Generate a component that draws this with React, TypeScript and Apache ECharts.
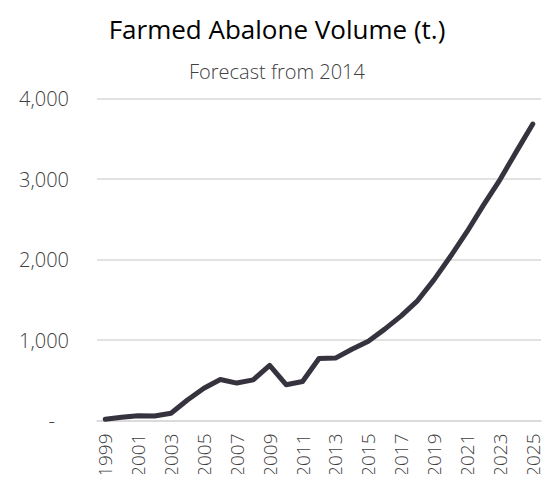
import React, { useEffect, useRef } from "react";
import * as echarts from "echarts";

const years = [
  "1999", "2000", "2001", "2002", "2003", "2004", "2005", "2006", "2007",
  "2008", "2009", "2010", "2011", "2012", "2013", "2014", "2015", "2016",
  "2017", "2018", "2019", "2020", "2021", "2022", "2023", "2024", "2025",
];
const volume = [
  15, 40, 60, 55, 90, 255, 400, 510, 465, 505, 685, 445, 485, 770, 775,
  885, 985, 1135, 1300, 1490, 1750, 2040, 2345, 2675, 2990, 3340, 3683,
];
const titleText = "Farmed Abalone Volume (t.)";
const subtitleText = "Forecast from 2014";

const FONT = "'Open Sans', 'Noto Sans', sans-serif";

export default function App() {
  const ref = useRef<HTMLDivElement>(null);
  useEffect(() => {
    if (!ref.current) return;
    const chart = echarts.init(ref.current, undefined, { renderer: "svg" });
    chart.setOption({
      animation: false,
      backgroundColor: "#ffffff",
      title: [
        {
          text: titleText,
          left: "center",
          top: 11,
          textStyle: { fontFamily: FONT, fontSize: 26, fontWeight: 400, color: "#000000" },
        },
        {
          text: subtitleText,
          left: "center",
          top: 56,
          textStyle: { fontFamily: FONT, fontSize: 20, fontWeight: 300, color: "#404040" },
        },
      ],
      grid: { left: 97, right: 13, top: 98.5, bottom: 61.5, containLabel: false },
      xAxis: {
        type: "category",
        data: years,
        boundaryGap: true,
        axisLine: { show: true, lineStyle: { color: "#d9d9d9", width: 1.5 } },
        axisTick: { show: false },
        axisLabel: {
          interval: 1,
          rotate: 90,
          margin: 13,
          fontFamily: FONT,
          fontSize: 19,
          fontWeight: 300,
          color: "#404040",
        },
      },
      yAxis: {
        type: "value",
        min: 0,
        max: 4000,
        interval: 1000,
        axisLine: { show: false },
        axisTick: { show: false },
        splitLine: { lineStyle: { color: "#d9d9d9", width: 1.5 } },
        axisLabel: {
          margin: 28,
          fontFamily: FONT,
          fontSize: 20,
          fontWeight: 300,
          color: "#404040",
          formatter: (v: number) =>
            v === 0 ? "{d|-}" : v.toLocaleString("en-US"),
          rich: {
            d: { fontFamily: FONT, fontSize: 20, fontWeight: 300, color: "#404040", padding: [0, 14, 0, 0] },
          },
        },
      },
      series: [
        {
          type: "line",
          data: volume,
          symbol: "none",
          lineStyle: { color: "#36333f", width: 5, cap: "round", join: "round" },
          itemStyle: { color: "#36333f" },
        },
      ],
    });
    return () => chart.dispose();
  }, []);
  return <div ref={ref} style={{ width: 554, height: 482, margin: -8 }} />;
}
